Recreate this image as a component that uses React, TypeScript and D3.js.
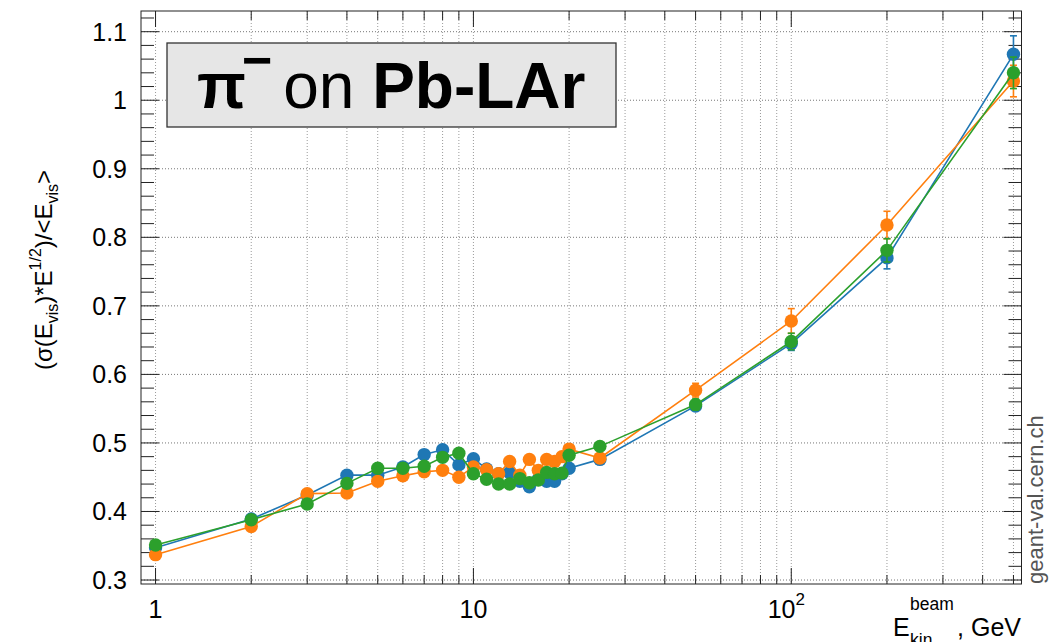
import React from "react";
import * as d3 from "d3";

const energies = [1, 2, 3, 4, 5, 6, 7, 8, 9, 10, 11, 12, 13, 14, 15, 16, 17, 18, 19, 20, 25, 50, 100, 200, 500];

const blueVals = [0.347, 0.389, 0.424, 0.453, 0.453, 0.465, 0.483, 0.490, 0.468, 0.477, 0.462, 0.455, 0.457, 0.444, 0.436, 0.447, 0.444, 0.444, 0.455, 0.463, 0.476, 0.554, 0.645, 0.770, 1.067];
const blueErr = [0.004, 0.004, 0.004, 0.004, 0.004, 0.004, 0.004, 0.004, 0.004, 0.004, 0.004, 0.004, 0.004, 0.004, 0.004, 0.004, 0.004, 0.004, 0.004, 0.004, 0.005, 0.006, 0.010, 0.016, 0.027];

const orangeVals = [0.337, 0.378, 0.426, 0.427, 0.444, 0.452, 0.458, 0.460, 0.450, 0.465, 0.461, 0.455, 0.473, 0.453, 0.476, 0.460, 0.476, 0.473, 0.480, 0.491, 0.478, 0.577, 0.678, 0.818, 1.028];
const orangeErr = [0.004, 0.004, 0.004, 0.004, 0.004, 0.004, 0.004, 0.004, 0.004, 0.004, 0.004, 0.004, 0.004, 0.004, 0.004, 0.004, 0.004, 0.004, 0.004, 0.004, 0.005, 0.010, 0.018, 0.020, 0.023];

const greenVals = [0.351, 0.388, 0.411, 0.441, 0.463, 0.463, 0.466, 0.479, 0.485, 0.455, 0.447, 0.440, 0.440, 0.448, 0.442, 0.446, 0.457, 0.455, 0.456, 0.482, 0.495, 0.556, 0.648, 0.781, 1.040];
const greenErr = [0.004, 0.004, 0.004, 0.004, 0.004, 0.004, 0.004, 0.004, 0.004, 0.004, 0.004, 0.004, 0.004, 0.004, 0.004, 0.004, 0.004, 0.004, 0.004, 0.004, 0.005, 0.008, 0.012, 0.017, 0.023];

const seriesColors = ["#1f77b4", "#ff7f0e", "#2ca02c"];

const yTickValues = [0.3, 0.4, 0.5, 0.6, 0.7, 0.8, 0.9, 1.0, 1.1];
const yTickLabels = ["0.3", "0.4", "0.5", "0.6", "0.7", "0.8", "0.9", "1", "1.1"];
const xMajorTicks = [1, 10, 100];

const FONT = "'Liberation Sans', Arial, Helvetica, sans-serif";

export default function App() {
  const W = 1049;
  const H = 642;
  const left = 141, right = 1021.5, top = 11, bottom = 584;

  const x = d3.scaleLog().domain([0.9, 530]).range([left, right]);
  const y = d3.scaleLinear().domain([0.2942, 1.1302]).range([bottom, top]);

  const series = [
    { vals: blueVals, errs: blueErr, color: seriesColors[0] },
    { vals: orangeVals, errs: orangeErr, color: seriesColors[1] },
    { vals: greenVals, errs: greenErr, color: seriesColors[2] },
  ];

  const xAllTicks: number[] = [];
  for (let dec = 1; dec <= 100; dec *= 10) {
    for (let m = 1; m <= 9; m++) {
      const v = m * dec;
      if (v >= 0.9 && v <= 530) xAllTicks.push(v);
    }
  }
  const yMinor: number[] = [];
  for (let i = 0; i <= 45; i++) {
    const v = 0.28 + i * 0.02;
    if (v > 0.2942 && v < 1.1302) yMinor.push(+v.toFixed(2));
  }

  const line = d3
    .line<[number, number]>()
    .x((d) => x(d[0]))
    .y((d) => y(d[1]));

  return (
    <svg width={W} height={H} style={{ position: "absolute", left: 0, top: 0, background: "#fff" }} fontFamily={FONT}>
      <rect x={0} y={0} width={W} height={H} fill="#fff" />
      {xAllTicks.map((t) => (
        <line key={"gx" + t} x1={x(t)} x2={x(t)} y1={top} y2={bottom} stroke="#9a9a9a" strokeWidth={1} strokeDasharray="1,2" />
      ))}
      {yTickValues.map((t) => (
        <line key={"gy" + t} x1={left} x2={right} y1={y(t)} y2={y(t)} stroke="#777" strokeWidth={1} strokeDasharray="1,2" />
      ))}

      <rect x={left} y={top} width={right - left} height={bottom - top} fill="none" stroke="#222" strokeWidth={1} />

      {xAllTicks.map((t) => {
        const major = xMajorTicks.includes(t);
        const len = major ? 16 : 9;
        return (
          <g key={"xt" + t}>
            <line x1={x(t)} x2={x(t)} y1={bottom} y2={bottom - len} stroke="#222" strokeWidth={1} />
            <line x1={x(t)} x2={x(t)} y1={top} y2={top + len} stroke="#222" strokeWidth={1} />
          </g>
        );
      })}
      {yMinor.map((t) => {
        const major = Math.abs(Math.round(t * 10) - t * 10) < 1e-6;
        const len = major ? 18 : 13;
        return (
          <g key={"yt" + t}>
            <line x1={left} x2={left + len} y1={y(t)} y2={y(t)} stroke="#222" strokeWidth={1} />
            <line x1={right} x2={right - len} y1={y(t)} y2={y(t)} stroke="#222" strokeWidth={1} />
          </g>
        );
      })}

      {yTickValues.map((t, i) => (
        <text key={"yl" + t} x={127} y={y(t) + 9} fontSize={25} textAnchor="end" fill="#000">
          {yTickLabels[i]}
        </text>
      ))}
      <text x={x(1)} y={618} fontSize={25} textAnchor="middle">1</text>
      <text x={x(10)} y={618} fontSize={25} textAnchor="middle">10</text>
      <text x={x(100) - 5} y={618} fontSize={25} textAnchor="middle">
        10<tspan fontSize={17} dy={-13}>2</tspan>
      </text>

      {series.map((s, si) => {
        const pts: [number, number][] = energies.map((e, i) => [e, s.vals[i]]);
        return (
          <g key={"s" + si}>
            <path d={line(pts) || ""} fill="none" stroke={s.color} strokeWidth={1.6} />
            {energies.map((e, i) => {
              const cx = x(e);
              const y1 = y(s.vals[i] + s.errs[i]);
              const y2 = y(s.vals[i] - s.errs[i]);
              return (
                <g key={"e" + i} stroke={s.color} strokeWidth={1.6}>
                  <line x1={cx} x2={cx} y1={y1} y2={y2} />
                  <line x1={cx - 3.5} x2={cx + 3.5} y1={y1} y2={y1} />
                  <line x1={cx - 3.5} x2={cx + 3.5} y1={y2} y2={y2} />
                </g>
              );
            })}
            {energies.map((e, i) => (
              <circle key={"c" + i} cx={x(e)} cy={y(s.vals[i])} r={6.7} fill={s.color} />
            ))}
          </g>
        );
      })}

      <rect x={167} y={43} width={449} height={84} fill="#e6e6e6" stroke="#333" strokeWidth={1.3} />
      <text x={197} y={108} fontSize={64}>
        <tspan fontWeight="bold">π</tspan>
        <tspan fontSize={52} fontWeight="bold" dx={-4} dy={-30}>−</tspan>
        <tspan dx={-7} dy={30}> on </tspan>
        <tspan fontWeight="bold">Pb-LAr</tspan>
      </text>

      <text transform="translate(52,270) rotate(-90)" fontSize={24} textAnchor="middle">
        (σ(E<tspan fontSize={16} dy={6}>vis</tspan>
        <tspan dy={-6}>)*E</tspan>
        <tspan fontSize={16} dy={-11}>1/2</tspan>
        <tspan dy={11}>)/&lt;E</tspan>
        <tspan fontSize={16} dy={6}>vis</tspan>
        <tspan dy={-6}>&gt;</tspan>
      </text>

      <text x={893} y={636} fontSize={25}>E</text>
      <text x={910} y={610} fontSize={17.5}>beam</text>
      <text x={910} y={646} fontSize={17.5}>kin</text>
      <text x={1021} y={636} fontSize={25} textAnchor="end">, GeV</text>

      <text transform="translate(1043,584) rotate(-90)" fontSize={22} fill="#555">geant-val.cern.ch</text>
    </svg>
  );
}
